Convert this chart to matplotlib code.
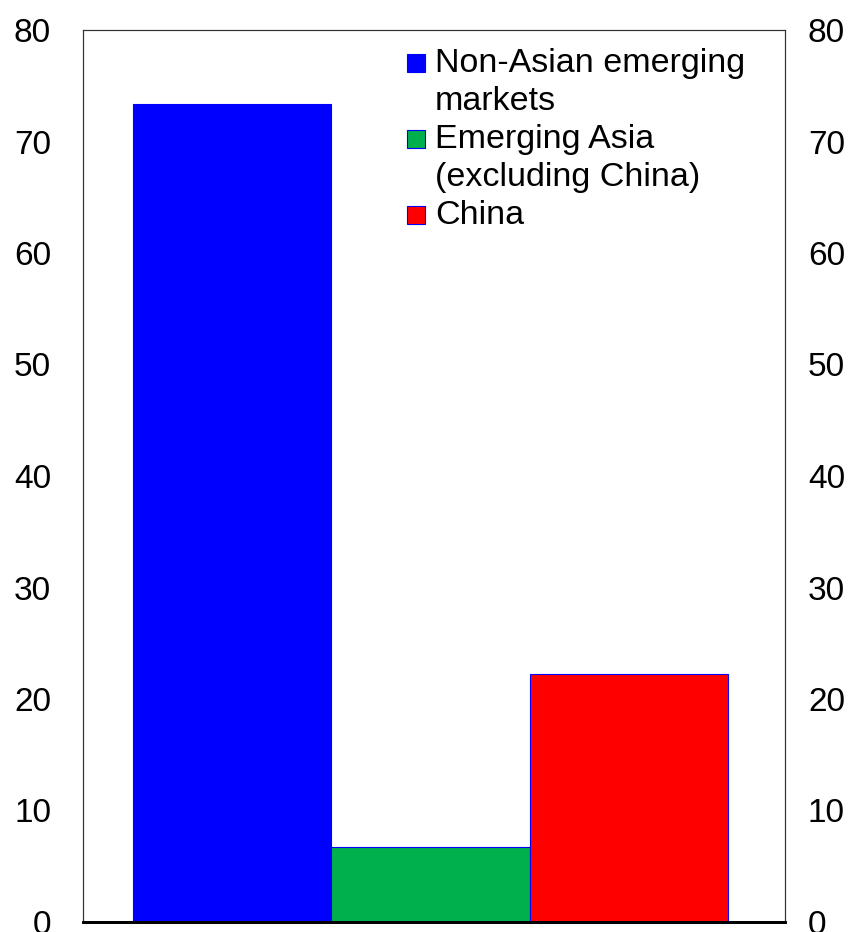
import matplotlib
matplotlib.use('Agg')
import matplotlib.pyplot as plt
from matplotlib.patches import Rectangle

# 数据
labels = [['Non-Asian emerging', 'markets'], ['Emerging Asia', '(excluding China)'], ['China']]
values = [73.4, 6.7, 22.2]
colors = ['#0000ff', '#00b04c', '#ff0000']
yticks = [0, 10, 20, 30, 40, 50, 60, 70, 80]

plt.rcParams['font.family'] = ['Liberation Sans', 'DejaVu Sans']

W, H = 848, 932
fig = plt.figure(figsize=(W / 100, H / 100), dpi=100)
ax = fig.add_axes([83 / W, 1 - 922 / H, 702 / W, 892 / H])

x = list(range(len(values)))
ax.bar(x, values, width=1.0, color=colors, edgecolor='#0000ff', linewidth=0.8)

ax.set_xlim(-0.5 - 0.2525, 2.5 + 0.288)
ax.set_ylim(0, 80)
ax.set_xticks([])
ax.set_yticks(yticks)
ax.tick_params(axis='y', length=0, labelsize=24, pad=23)

# 右侧重复刻度
ax2 = ax.twinx()
ax2.set_ylim(0, 80)
ax2.set_yticks(yticks)
ax2.tick_params(axis='y', length=0, labelsize=24, pad=16.5)

for a in (ax, ax2):
    for s in ('left', 'right', 'top'):
        a.spines[s].set_color('#333333')
        a.spines[s].set_linewidth(0.8)
    a.spines['bottom'].set_color('black')
    a.spines['bottom'].set_linewidth(2)

# 图例（手动画，色块对齐第一行，行距 38px）
row = 0
for lines, c in zip(labels, colors):
    base = 72 + 38 * row
    fig.add_artist(Rectangle((407 / W, 1 - base / H), 18 / W, 18 / H, transform=fig.transFigure,
                             facecolor=c, edgecolor='#0000ff', linewidth=0.8))
    for ln in lines:
        fig.text(435 / W, 1 - (72 + 38 * row) / H, ln, fontsize=24.5, va='baseline', ha='left')
        row += 1

fig.savefig('out.png', dpi=100)
